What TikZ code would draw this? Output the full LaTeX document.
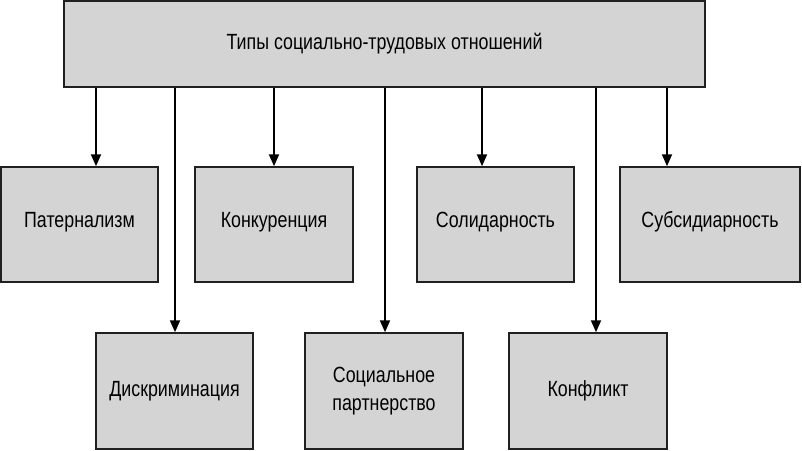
\documentclass[tikz,border=0pt]{standalone}
\usepackage{fontspec}
\setmainfont{Liberation Sans}[FakeStretch=0.81]
\usetikzlibrary{arrows.meta,calc}
\definecolor{boxfill}{HTML}{D4D4D4}
\definecolor{boxline}{HTML}{202020}
\tikzset{
  boxnode/.style={draw=boxline, fill=boxfill, line width=1.5pt, rectangle, inner sep=0pt, align=center, font=\fontsize{22}{27}\selectfont},
  arr/.style={draw=black, line width=2pt, -{Triangle[length=12pt,width=10pt]}},
}
\newcommand{\bx}[7]{% name, x1, y1, x2, y2, text, raise
  \node[boxnode, minimum width={(#4-#2)*1pt}, minimum height={(#5-#3)*1pt}] (#1) at ({(#2+#4)/2},{(#3+#5)/2}) {\raisebox{#7pt}{#6}};}
\begin{document}
\begin{tikzpicture}[x=1pt,y=-1pt]
\useasboundingbox (0,0) rectangle (802,450);
\fill[white] (0,0) rectangle (802,450);
\bx{top}{64}{1}{705}{87}{Типы социально-трудовых отношений}{-1}
\bx{pat}{1}{167}{158}{282}{Патернализм}{10}
\bx{kon}{195}{167}{353}{282}{Конкуренция}{10}
\bx{sol}{417}{167}{574}{282}{Солидарность}{10}
\bx{sub}{620}{167}{800}{282}{Субсидиарность}{10}
\bx{dis}{96}{333}{253}{449}{Дискриминация}{2}
\node[boxnode, minimum width=158pt, minimum height=116pt] (sp) at (384,391) {\raisebox{5pt}{\begin{tabular}{@{}c@{}}Социальное\\[1pt] партнерство\end{tabular}}};
\bx{kf}{509}{333}{667}{449}{Конфликт}{2}
\draw[arr] (top.south -| 96,0) -- (pat.north -| 96,0);
\draw[arr] (top.south -| 175,0) -- (dis.north -| 175,0);
\draw[arr] (top.south -| 274,0) -- (kon.north -| 274,0);
\draw[arr] (top.south -| 385,0) -- (sp.north -| 385,0);
\draw[arr] (top.south -| 482,0) -- (sol.north -| 482,0);
\draw[arr] (top.south -| 596,0) -- (kf.north -| 596,0);
\draw[arr] (top.south -| 667,0) -- (sub.north -| 667,0);
\end{tikzpicture}
\end{document}
